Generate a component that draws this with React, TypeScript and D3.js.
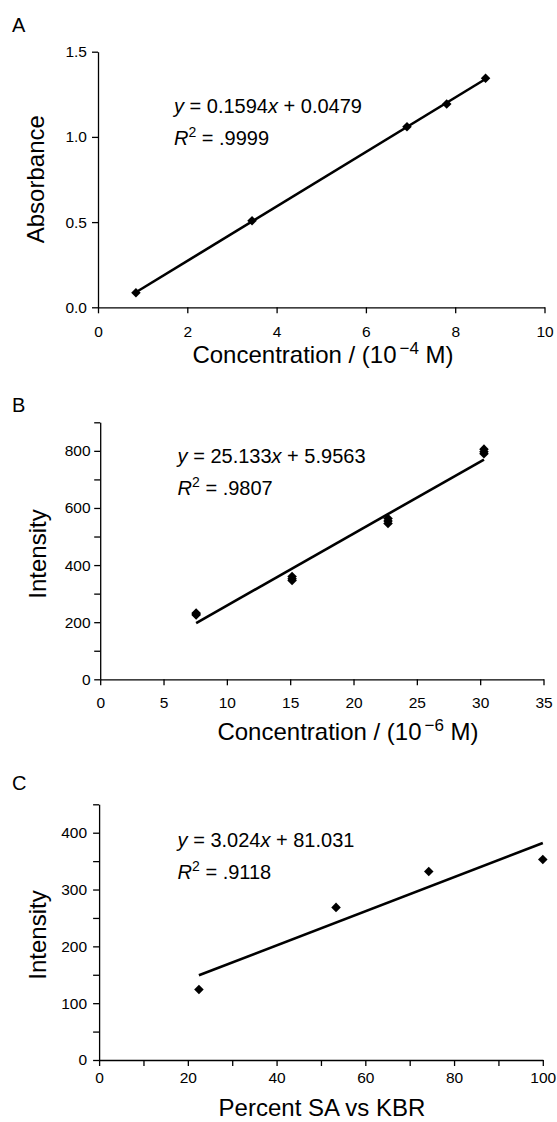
import React, { useRef, useEffect } from "react";
import * as d3 from "d3";

const FONT = "'Liberation Sans', Arial, Helvetica, sans-serif";

// Panel A - absorbance calibration
const concA = [0.85, 3.45, 6.92, 7.81, 8.68];
const absorbA = [0.086, 0.508, 1.06, 1.193, 1.344];
const xTicksA = [0, 2, 4, 6, 8, 10];
const yTicksA = [0, 0.5, 1.0, 1.5];
const eqA = ["0.1594", "0.0479", ".9999"];

// Panel B - intensity vs concentration (triplicates)
const concB = [7.575, 7.575, 7.575, 15.15, 15.15, 15.15, 22.725, 22.725, 22.725, 30.3, 30.3, 30.3];
const intensB = [225, 229, 232, 360, 352, 346, 563, 554, 546, 806, 797, 790];
const xTicksB = [0, 5, 10, 15, 20, 25, 30, 35];
const yTicksB = [0, 100, 200, 300, 400, 500, 600, 700, 800, 900];
const yLabelsB = [0, 200, 400, 600, 800];
const eqB = ["25.133", "5.9563", ".9807"];

// Panel C - intensity vs percent SA
const percentC = [22.5, 53.4, 74.3, 100];
const intensC = [124, 268.6, 331.7, 353];
const xTicksC = [0, 10, 20, 30, 40, 50, 60, 70, 80, 90, 100];
const xLabelsC = [0, 20, 40, 60, 80, 100];
const yTicksC = [0, 50, 100, 150, 200, 250, 300, 350, 400, 450];
const yLabelsC = [0, 100, 200, 300, 400];
const eqC = ["3.024", "81.031", ".9118"];

const panels = [
  {
    letter: "A", letterY: 32,
    xs: concA, ys: absorbA,
    xDomain: [0, 10], yDomain: [0, 1.5],
    left: 98, right: 544.5, top: 51.7, bottom: 307.3,
    xTicks: xTicksA, xLabels: xTicksA, yTicks: yTicksA, yLabels: yTicksA,
    yFormat: d3.format(".1f"),
    xLabelDy: 29.4, yPad: 5,
    xTitle: ["Concentration / (10", "\u22124", " M)"], xTitleX: 323, xTitleY: 363.3,
    yTitle: "Absorbance", yTitleX: 44, yTitleY: 179.2,
    eq: eqA, eqX: 174, eqY: 113.3, r2Y: 145
  },
  {
    letter: "B", letterY: 412,
    xs: concB, ys: intensB,
    xDomain: [0, 35], yDomain: [0, 900],
    left: 100.2, right: 543.5, top: 422.3, bottom: 679.3,
    xTicks: xTicksB, xLabels: xTicksB, yTicks: yTicksB, yLabels: yLabelsB,
    yFormat: d3.format("d"),
    xLabelDy: 28.4, yPad: 3.6,
    xTitle: ["Concentration / (10", "\u22126", " M)"], xTitleX: 348, xTitleY: 740,
    yTitle: "Intensity", yTitleX: 46, yTitleY: 554,
    eq: eqB, eqX: 177.6, eqY: 463.3, r2Y: 495
  },
  {
    letter: "C", letterY: 790,
    xs: percentC, ys: intensC,
    xDomain: [0, 100], yDomain: [0, 450],
    left: 99.1, right: 542.8, top: 804.3, bottom: 1060,
    xTicks: xTicksC, xLabels: xLabelsC, yTicks: yTicksC, yLabels: yLabelsC,
    yFormat: d3.format("d"),
    xLabelDy: 23.3, yPad: 6,
    xTitle: ["Percent SA vs KBR"], xTitleX: 322, xTitleY: 1116,
    yTitle: "Intensity", yTitleX: 46, yTitleY: 935,
    eq: eqC, eqX: 177.6, eqY: 847.3, r2Y: 879.3
  }
];

// least squares fit
function fit(xs: number[], ys: number[]) {
  const mx = d3.mean(xs) as number;
  const my = d3.mean(ys) as number;
  let sxy = 0, sxx = 0;
  xs.forEach((x, i) => {
    sxy += (x - mx) * (ys[i] - my);
    sxx += (x - mx) * (x - mx);
  });
  const slope = sxy / sxx;
  return { slope, intercept: my - slope * mx };
}

const App = () => {
  const svgRef = useRef<SVGSVGElement>(null);

  useEffect(() => {
    const svg = d3.select(svgRef.current);
    svg.selectAll("*").remove();

    const diamond = (d3 as any).symbolDiamond2 || d3.symbolDiamond;

    panels.forEach(p => {
      const g = svg.append("g");

      const x = d3.scaleLinear().domain(p.xDomain).range([p.left, p.right]);
      const y = d3.scaleLinear().domain(p.yDomain).range([p.bottom, p.top]);

      // panel letter
      g.append("text")
        .attr("x", 12)
        .attr("y", p.letterY)
        .style("font-family", FONT)
        .style("font-size", "20px")
        .text(p.letter);

      // x axis
      const xAxis = g.append("g")
        .attr("transform", `translate(0,${p.bottom})`)
        .call(d3.axisBottom(x)
          .tickValues(p.xTicks)
          .tickSize(6)
          .tickSizeOuter(0)
          .tickFormat(d => (p.xLabels.includes(d as number) ? String(d) : "")));
      xAxis.select(".domain").attr("stroke", "#000").attr("stroke-width", 1.3);
      xAxis.selectAll(".tick line").attr("stroke", "#000").attr("stroke-width", 1.3);
      xAxis.selectAll("text")
        .attr("y", p.xLabelDy)
        .attr("dy", null)
        .attr("fill", "#000")
        .style("font-family", FONT)
        .style("font-size", "15.5px");

      // y axis
      const yAxis = g.append("g")
        .attr("transform", `translate(${p.left},0)`)
        .call(d3.axisLeft(y)
          .tickValues(p.yTicks)
          .tickSize(6)
          .tickSizeOuter(0)
          .tickPadding(p.yPad)
          .tickFormat(d => (p.yLabels.includes(d as number) ? p.yFormat(d as number) : "")));
      yAxis.select(".domain").attr("stroke", "#000").attr("stroke-width", 1.3);
      yAxis.selectAll(".tick line").attr("stroke", "#000").attr("stroke-width", 1.3);
      yAxis.selectAll("text")
        .attr("fill", "#000")
        .style("font-family", FONT)
        .style("font-size", "15.5px");

      // x title
      const xt = g.append("text")
        .attr("x", p.xTitleX)
        .attr("y", p.xTitleY)
        .attr("text-anchor", "middle")
        .style("font-family", FONT)
        .style("font-size", "24px");
      xt.append("tspan").text(p.xTitle[0]);
      if (p.xTitle.length > 1) {
        xt.append("tspan")
          .attr("dx", 3)
          .attr("dy", -9)
          .style("font-size", "17px")
          .text(p.xTitle[1]);
        xt.append("tspan").attr("dy", 9).text(p.xTitle[2]);
      }

      // y title
      g.append("text")
        .attr("transform", `translate(${p.yTitleX},${p.yTitleY}) rotate(-90)`)
        .attr("text-anchor", "middle")
        .style("font-family", FONT)
        .style("font-size", "24px")
        .text(p.yTitle);

      // trend line
      const f = fit(p.xs, p.ys);
      const [xmin, xmax] = d3.extent(p.xs) as [number, number];
      const line = d3.line<number>()
        .x(d => x(d))
        .y(d => y(f.slope * d + f.intercept));
      g.append("path")
        .datum([xmin, xmax])
        .attr("d", line)
        .attr("fill", "none")
        .attr("stroke", "#000")
        .attr("stroke-width", 2.6);

      // points
      g.selectAll(".pt")
        .data(p.xs)
        .enter()
        .append("path")
        .attr("class", "pt")
        .attr("transform", (d, i) => `translate(${x(d)},${y(p.ys[i])})`)
        .attr("d", d3.symbol().type(diamond).size(58)())
        .attr("fill", "#000");

      // equation
      const eq = g.append("text")
        .attr("x", p.eqX)
        .attr("y", p.eqY)
        .style("font-family", FONT)
        .style("font-size", "20px");
      eq.append("tspan").style("font-style", "italic").text("y");
      eq.append("tspan").text(` = ${p.eq[0]}`);
      eq.append("tspan").style("font-style", "italic").text("x");
      eq.append("tspan").text(` + ${p.eq[1]}`);

      const r2 = g.append("text")
        .attr("x", p.eqX)
        .attr("y", p.r2Y)
        .style("font-family", FONT)
        .style("font-size", "20px");
      r2.append("tspan").style("font-style", "italic").text("R");
      r2.append("tspan").attr("dy", -8).style("font-size", "14px").text("2");
      r2.append("tspan").attr("dy", 8).text(` = ${p.eq[2]}`);
    });
  }, []);

  return (
    <svg
      ref={svgRef}
      width={557}
      height={1122}
      style={{ position: "absolute", left: 0, top: 0, background: "#fff" }}
    />
  );
};

export default App;
